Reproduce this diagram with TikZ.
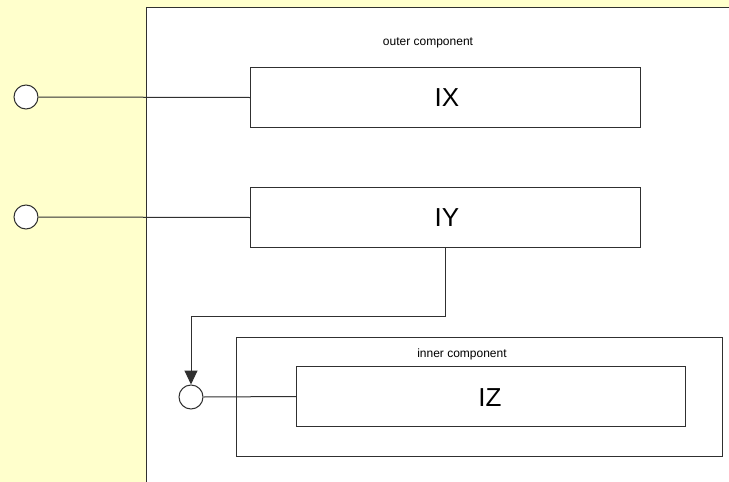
\documentclass[tikz,border=0pt]{standalone}
\usepackage{fontspec}
\setmainfont{Liberation Sans}
\usetikzlibrary{arrows.meta}
\definecolor{bgyellow}{HTML}{FFFFCC}
\definecolor{linecol}{HTML}{303030}
\tikzset{
  compbox/.style={draw=linecol, line width=1pt, fill=white, rectangle, inner sep=0pt, anchor=north west},
  ifacebox/.style={draw=linecol, line width=1pt, fill=white, rectangle, inner sep=0pt, anchor=north west, minimum height=60pt},
  port/.style={draw=linecol, line width=1pt, fill=white, circle, minimum size=24pt, inner sep=0pt},
  wire/.style={draw=linecol, line width=1pt},
  bigtxt/.style={font=\fontsize{26}{30}\selectfont, anchor=base, inner sep=0pt},
  smalltxt/.style={font=\fontsize{12}{14}\selectfont, anchor=base, inner sep=0pt}
}
\begin{document}
\begin{tikzpicture}[x=1pt,y=-1pt]
\useasboundingbox (0,0) rectangle (729,482);
\clip (0,0) rectangle (729,482);
\fill[bgyellow] (0,0) rectangle (729,482);
% outer component
\node[compbox, minimum width=600pt, minimum height=490pt] (outer) at (146,7) {};
\node[smalltxt] (outerlbl) at (428,45) {outer component};
% IX and IY
\node[ifacebox, minimum width=390pt] (ix) at (250,67) {};
\node[bigtxt] (ixlbl) at (447,106) {IX};
\node[ifacebox, minimum width=390pt] (iy) at (250,187) {};
\node[bigtxt] (iylbl) at (447,226) {IY};
% inner component
\node[compbox, minimum width=486pt, minimum height=119pt] (inner) at (236,337) {};
\node[smalltxt] (innerlbl) at (462,357) {inner component};
\node[ifacebox, minimum width=389pt] (iz) at (296,366) {};
\node[bigtxt] (izlbl) at (490,406) {IZ};
% ports
\node[port] (p1) at (26,97) {};
\node[port] (p2) at (26,217) {};
\node[port] (p3) at (191,397) {};
% wires
\draw[wire] (p1.east) -- (ix.west);
\draw[wire] (p2.east) -- (iy.west);
\draw[wire] (p3.east) -- (iz.west);
\coordinate (iyout) at (445,247);
\coordinate (bend1) at (445,316);
\coordinate (bend2) at (191,316);
\draw[wire, -{Triangle[length=14pt,width=13pt]}] (iyout) -- (bend1) -- (bend2) -- (p3.north);
\end{tikzpicture}
\end{document}
